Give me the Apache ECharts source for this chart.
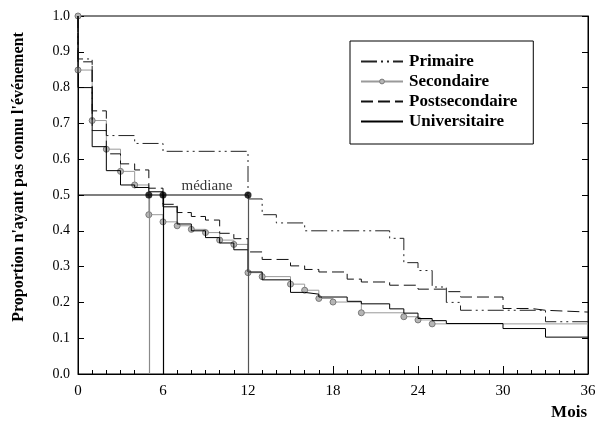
<!DOCTYPE html>
<html>
<head>
<meta charset="utf-8">
<script src="https://cdn.jsdelivr.net/npm/echarts@6/dist/echarts.min.js"></script>
<style>
html,body{margin:0;padding:0;background:#fff;}
#chart{width:599px;height:435px;}
</style>
</head>
<body>
<div id="chart"></div>
<script>
// ---- data (months, survival proportion) ----
const seriesNames = ['Primaire', 'Secondaire', 'Postsecondaire', 'Universitaire'];

const primaireT = [0, 0, 1, 2, 4, 6, 12, 13, 14, 16, 22, 23, 24, 25, 26, 27, 33, 36];
const primaireV = [1.0, 0.880, 0.680, 0.666, 0.644, 0.622, 0.489, 0.445, 0.422, 0.400, 0.379, 0.311, 0.289, 0.243, 0.200, 0.178, 0.146, 0.146];

const secondaireT = [0, 0, 1, 2, 3, 4, 5, 6, 7, 8, 9, 10, 11, 12, 13, 15, 16, 17, 18, 20, 23, 24, 25, 36];
const secondaireV = [1.0, 0.849, 0.708, 0.628, 0.566, 0.528, 0.445, 0.425, 0.414, 0.404, 0.395, 0.374, 0.362, 0.283, 0.272, 0.251, 0.234, 0.211, 0.201, 0.171, 0.160, 0.151, 0.140, 0.140];

const postT = [0, 0, 1, 2, 3, 4, 5, 6, 7, 8, 9, 10, 11, 12, 13, 15, 16, 17, 19, 20, 22, 24, 26, 27, 30, 32, 33, 36];
const postV = [1.0, 0.872, 0.735, 0.615, 0.587, 0.570, 0.519, 0.474, 0.451, 0.440, 0.430, 0.393, 0.378, 0.341, 0.320, 0.302, 0.292, 0.285, 0.265, 0.257, 0.248, 0.237, 0.230, 0.215, 0.183, 0.178, 0.173, 0.173];

const univT = [0, 0, 1, 2, 3, 4, 5, 6, 7, 8, 9, 10, 11, 12, 13, 15, 16, 17, 19, 20, 22, 23, 24, 25, 26, 30, 33, 36];
const univV = [1.0, 0.800, 0.635, 0.568, 0.528, 0.521, 0.509, 0.467, 0.419, 0.400, 0.381, 0.366, 0.347, 0.285, 0.263, 0.228, 0.223, 0.215, 0.203, 0.196, 0.182, 0.170, 0.155, 0.149, 0.141, 0.127, 0.103, 0.103];

const medianMonths = [5, 6, 12];
const medianLevel = 0.5;
const medianText = 'médiane';
const medianLabelPos = [9.1, 0.525];

const xTicks = [0, 6, 12, 18, 24, 30, 36];
const yTitle = "Proportion n'ayant pas connu l'événement";
const xTitle = 'Mois';

// ---- build ----
const pair = (t, v) => t.map((x, i) => [x, v[i]]);
const serif = '"Liberation Serif", "DejaVu Serif", serif';

const secData = pair(secondaireT, secondaireV).map((p, i, a) =>
  i === a.length - 1 ? { value: p, symbol: 'none' } : { value: p });

const noSym = { color: 'transparent', borderColor: 'transparent', borderWidth: 0 };
const medianColors = ['#8a8a8a', '#000', '#555'];
const chart = echarts.init(document.getElementById('chart'), null, { renderer: 'canvas' });
chart.setOption({
  animation: false,
  backgroundColor: '#fff',
  grid: { left: 78, right: 11, top: 16, bottom: 61, show: true, borderColor: '#000', borderWidth: 1, backgroundColor: 'transparent' },
  legend: {
    data: seriesNames.map(n => n === 'Secondaire'
      ? { name: n, itemStyle: { color: '#b5b5b5', borderColor: '#7a7a7a', borderWidth: 1 } }
      : { name: n, itemStyle: noSym }),
    orient: 'vertical',
    left: 350, top: 41,
    padding: [12, 16, 14, 10],
    itemWidth: 42, itemHeight: 6, itemGap: 3,
    borderColor: '#000', borderWidth: 1,
    backgroundColor: '#fff',
    textStyle: { fontFamily: serif, fontWeight: 'bold', fontSize: 17, color: '#000', padding: [0, 0, 0, 1] }
  },
  xAxis: {
    type: 'value', min: 0, max: 36, interval: 6,
    axisLine: { lineStyle: { color: '#000' } },
    axisTick: { inside: true, length: 8, lineStyle: { color: '#000' } },
    minorTick: { show: true, splitNumber: 6, length: 4, lineStyle: { color: '#000' } },
    splitLine: { show: false },
    axisLabel: { fontFamily: serif, fontSize: 15, color: '#000', margin: 10,
      formatter: v => xTicks.includes(v) ? String(v) : '' }
  },
  yAxis: [{
    type: 'value', min: 0, max: 1, interval: 0.1,
    axisLine: { show: true, lineStyle: { color: '#000' } },
    axisTick: { show: true, inside: true, length: 6, lineStyle: { color: '#000' } },
    splitLine: { show: false },
    axisLabel: { fontFamily: serif, fontSize: 14, color: '#000', margin: 8, formatter: v => v.toFixed(1) }
  }, {
    type: 'value', min: 0, max: 1, interval: 0.1, position: 'right',
    axisLine: { show: true, lineStyle: { color: '#000' } },
    axisTick: { show: true, inside: true, length: 6, lineStyle: { color: '#000' } },
    splitLine: { show: false },
    axisLabel: { show: false }
  }],
  graphic: [{
    type: 'text', right: 12, top: 404,
    style: { text: xTitle, font: 'bold 17px ' + serif, fill: '#000' }
  }, {
    type: 'text', x: 19, y: 177, rotation: Math.PI / 2,
    style: { text: yTitle, font: 'bold 16px ' + serif, fill: '#000', align: 'center', verticalAlign: 'middle' }
  }],
  series: [
    {
      name: 'Primaire', type: 'line', step: 'end', showSymbol: false, symbol: 'none',
      data: pair(primaireT, primaireV), color: '#222',
      lineStyle: { width: 1, color: '#222', type: [16, 4, 2, 4, 2, 4] }, z: 3
    },
    {
      name: 'Secondaire', type: 'line', step: 'end', symbol: 'circle', symbolSize: 6, showSymbol: true,
      data: secData, color: '#999',
      itemStyle: { color: '#b5b5b5', borderColor: '#7a7a7a', borderWidth: 1 },
      lineStyle: { width: 1, color: '#9a9a9a', type: 'solid' }, z: 2
    },
    {
      name: 'Postsecondaire', type: 'line', step: 'end', showSymbol: false, symbol: 'none',
      data: pair(postT, postV), color: '#111',
      lineStyle: { width: 1, color: '#111', type: [12, 5] }, z: 3
    },
    {
      name: 'Universitaire', type: 'line', step: 'end', showSymbol: false, symbol: 'none',
      data: pair(univT, univV), color: '#000',
      lineStyle: { width: 1, color: '#000', type: 'solid' }, z: 3
    },
    {
      name: 'median', type: 'line', symbol: 'none', silent: true,
      data: [[0, medianLevel], [Math.max(...medianMonths), medianLevel]],
      lineStyle: { width: 1.2, color: '#000' }, z: 4,
      markLine: {
        silent: true, symbol: ['none', 'none'], label: { show: false },
        data: medianMonths.map((m, i) => [
          { coord: [m, medianLevel], lineStyle: { color: medianColors[i], width: 1.2, type: 'solid' } },
          { coord: [m, 0] }
        ])
      }
    },
    {
      name: 'medianDots', type: 'scatter', symbol: 'circle', symbolSize: 7, silent: true,
      data: medianMonths.map(m => [m, medianLevel]),
      itemStyle: { color: '#000' }, z: 5
    },
    {
      name: 'medianLabel', type: 'scatter', symbolSize: 0, silent: true,
      data: [medianLabelPos],
      label: { show: true, position: 'inside', formatter: medianText, fontFamily: serif, fontSize: 15, color: '#000' },
      z: 5
    }
  ]
});
</script>
</body>
</html>
